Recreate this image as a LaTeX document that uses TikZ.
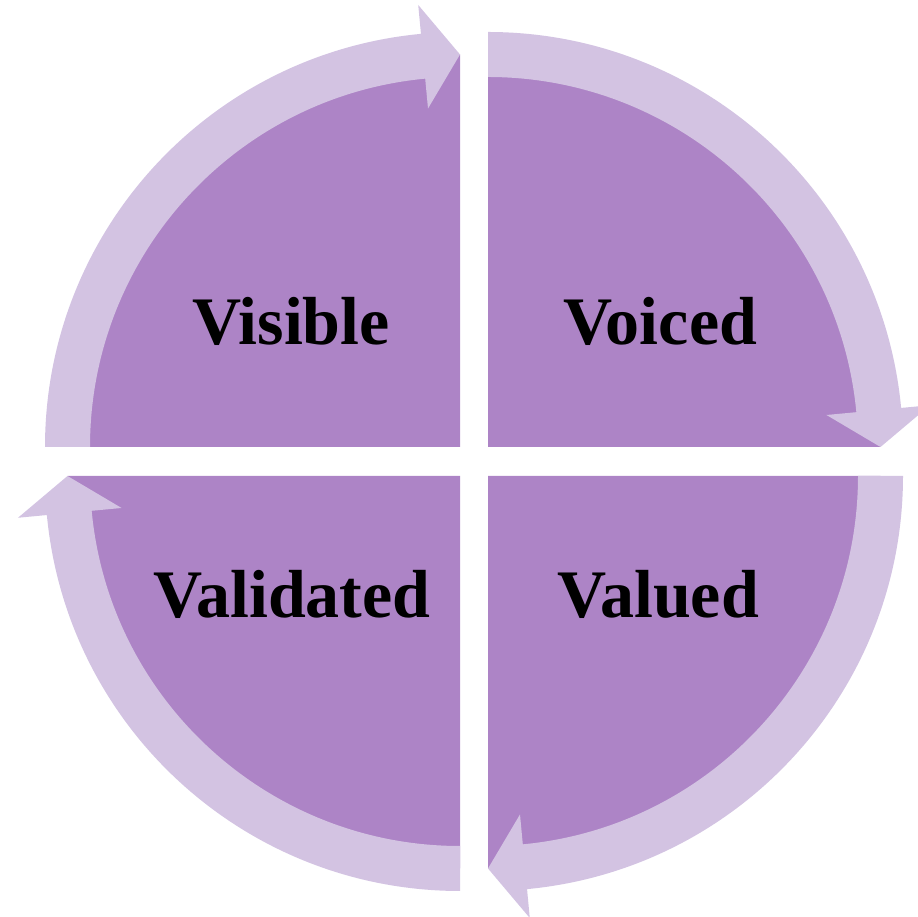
\documentclass[tikz,border=0pt]{standalone}
\usepackage{fontspec}
\setmainfont{Liberation Serif}
\usepackage{xcolor}
\usepackage{tikz}

\definecolor{quadpurple}{RGB}{173,132,198}
\definecolor{ringlilac}{RGB}{211,195,226}

\begin{document}
\begin{tikzpicture}[x=1pt,y=1pt]
            \useasboundingbox (0,0) rectangle (918,917);

            % the four quarter discs
            \begin{scope}[every path/.style={fill=quadpurple}]
                \path (460,470) -- ++(180:392.5) arc[start angle=180, end angle=90, radius=392.5] -- cycle;
                \path (488,470) -- ++(90:392.5) arc[start angle=90, end angle=0, radius=392.5] -- cycle;
                \path (488,441) -- ++(0:392.5) arc[start angle=0, end angle=-90, radius=392.5] -- cycle;
                \path (460,441) -- ++(-90:392.5) arc[start angle=-90, end angle=-180, radius=392.5] -- cycle;
            \end{scope}

            % clockwise arrows round each quarter
            \begin{scope}[every path/.style={fill=ringlilac}]
                \path[shift={(460,470)}] (180:370) -- (180:415) arc[start angle=180, end angle=95.4, radius=415]
                    -- (95.4:444) -- (90:392.5) -- (95.4:340) -- (95.4:370)
                    arc[start angle=95.4, end angle=180, radius=370] -- cycle;
                \path[shift={(488,470)}] (90:370) -- (90:415) arc[start angle=90, end angle=5.4, radius=415]
                    -- (5.4:444) -- (0:392.5) -- (5.4:340) -- (5.4:370)
                    arc[start angle=5.4, end angle=90, radius=370] -- cycle;
                \path[shift={(488,441)}] (0:370) -- (0:415) arc[start angle=0, end angle=-84.6, radius=415]
                    -- (-84.6:444) -- (-90:392.5) -- (-84.6:340) -- (-84.6:370)
                    arc[start angle=-84.6, end angle=0, radius=370] -- cycle;
                \path[shift={(460,441)}] (-90:370) -- (-90:415) arc[start angle=-90, end angle=-174.6, radius=415]
                    -- (-174.6:444) -- (-180:392.5) -- (-174.6:340) -- (-174.6:370)
                    arc[start angle=-174.6, end angle=-90, radius=370] -- cycle;
            \end{scope}

            \begin{scope}[every node/.style={anchor=base, font=\fontsize{68}{80}\selectfont\bfseries}]
                \node (visible) at (291,572) {Visible};
                \node (voiced) at (660,572) {Voiced};
                \node (validated) at (292,299) {Validated};
                \node (valued) at (658,299) {Valued};
            \end{scope}
\end{tikzpicture}
\end{document}
